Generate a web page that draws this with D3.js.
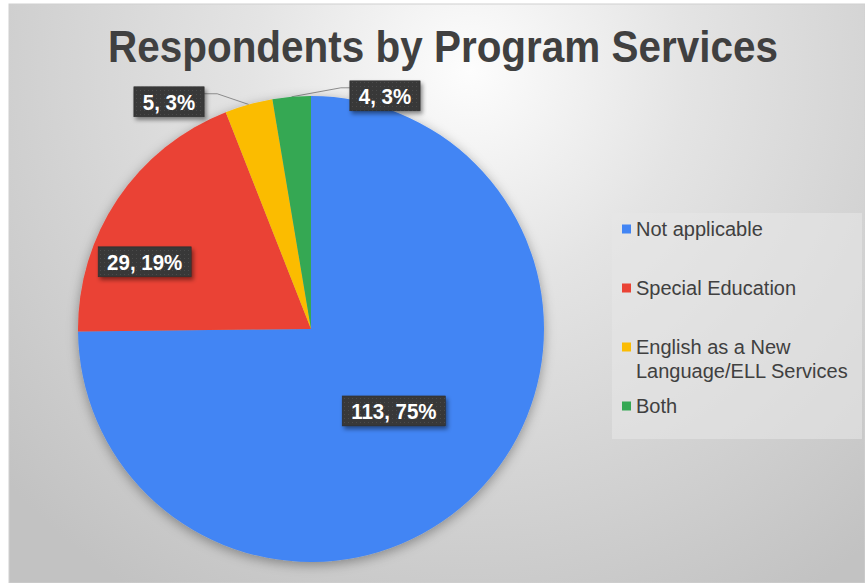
<!DOCTYPE html>
<html>
<head>
<meta charset="utf-8">
<script src="https://cdn.jsdelivr.net/npm/d3@7"></script>
<style>
  body { margin: 0; background: #fff; }
  svg { display: block; }
</style>
</head>
<body>
<div id="chart"></div>
<script>
// data
var categories = ["Not applicable", "Special Education", "English as a New Language/ELL Services", "Both"];
var legendLines = [["Not applicable"], ["Special Education"], ["English as a New", "Language/ELL Services"], ["Both"]];
var counts = [113, 29, 5, 4];
var colors = ["#4285f4", "#ea4335", "#fbbc04", "#34a853"];
var title = "Respondents by Program Services";

// where each data label sits: angle (deg from 12 o'clock) and distance as share of radius
var labelPlace = [
    { angle: 134.7, dist: 0.50, leader: false },
    { angle: 292,   dist: 0.77, leader: false },
    { angle: 328,   dist: 1.15, leader: true  },
    { angle: 17.6,  dist: 1.05, leader: true  }
];

var W = 865, H = 583;
var cx = 311, cy = 329, radius = 233;
var narrow = "'Liberation Sans Narrow', 'Arial Narrow', 'Liberation Sans', sans-serif";

var svg = d3.select("#chart").append("svg")
    .attr("width", W)
    .attr("height", H);

var defs = svg.append("defs");

// background gradient
var bg = defs.append("radialGradient")
    .attr("id", "bg")
    .attr("gradientUnits", "userSpaceOnUse")
    .attr("cx", 470).attr("cy", 70).attr("r", 620);
bg.append("stop").attr("offset", "0%").attr("stop-color", "#fdfdfd");
bg.append("stop").attr("offset", "35%").attr("stop-color", "#e4e4e4");
bg.append("stop").attr("offset", "100%").attr("stop-color", "#c2c2c2");

var shadow = defs.append("filter").attr("id", "pieShadow")
    .attr("x", "-20%").attr("y", "-20%").attr("width", "140%").attr("height", "140%");
shadow.append("feDropShadow")
    .attr("dx", 0).attr("dy", 3).attr("stdDeviation", 6)
    .attr("flood-color", "#000").attr("flood-opacity", 0.35);

var boxShadow = defs.append("filter").attr("id", "boxShadow")
    .attr("x", "-20%").attr("y", "-30%").attr("width", "150%").attr("height", "180%");
boxShadow.append("feDropShadow")
    .attr("dx", 2).attr("dy", 3).attr("stdDeviation", 2)
    .attr("flood-color", "#000").attr("flood-opacity", 0.45);

var dots = defs.append("pattern").attr("id", "dots")
    .attr("width", 4).attr("height", 4).attr("patternUnits", "userSpaceOnUse");
dots.append("rect").attr("width", 4).attr("height", 4).attr("fill", "#383838");
dots.append("rect").attr("x", 1).attr("y", 1).attr("width", 1).attr("height", 1).attr("fill", "#4c4c4c");

// chart area
svg.append("rect")
    .attr("x", 9).attr("y", 4)
    .attr("width", W - 9).attr("height", H - 4)
    .attr("fill", "url(#bg)")
    .attr("stroke", "#d0d0d0")
    .attr("stroke-width", 1);

// title
var t = svg.append("text")
    .attr("x", 443)
    .attr("y", 62)
    .attr("text-anchor", "middle")
    .style("font-family", narrow)
    .style("font-weight", "bold")
    .style("font-size", "44px")
    .style("fill", "#404040")
    .text(title);
if (t.node().getComputedTextLength() > 672) {
    t.attr("textLength", 670).attr("lengthAdjust", "spacingAndGlyphs");
}

// pie
var total = d3.sum(counts);
var pct = d3.format(".0%");
var pie = d3.pie().sort(null).value(function(d) { return d; });
var arcs = pie(counts);
var arc = d3.arc().innerRadius(0).outerRadius(radius);

var g = svg.append("g").attr("transform", "translate(" + cx + "," + cy + ")");

g.append("g")
    .attr("filter", "url(#pieShadow)")
    .selectAll("path")
    .data(arcs)
    .enter().append("path")
    .attr("d", arc)
    .attr("fill", function(d, i) { return colors[i]; });

function polar(angleDeg, r) {
    var a = angleDeg * Math.PI / 180;
    return [Math.sin(a) * r, -Math.cos(a) * r];
}

// data labels
arcs.forEach(function(d, i) {
    var place = labelPlace[i];
    var p = polar(place.angle, place.dist * radius);
    var label = counts[i] + ", " + pct(counts[i] / total);

    var lg = g.append("g");
    var txt = lg.append("text")
        .attr("x", p[0])
        .attr("y", p[1])
        .attr("dy", "0.36em")
        .attr("text-anchor", "middle")
        .style("font-family", narrow)
        .style("font-weight", "bold")
        .style("font-size", "22px")
        .style("fill", "#fff")
        .text(label);
    var tw = txt.node().getComputedTextLength();
    // squeeze a little, the original face is condensed
    tw = tw * 0.93;
    txt.attr("textLength", tw).attr("lengthAdjust", "spacingAndGlyphs");
    var bw = tw + 18, bh = 30;
    var bx = p[0] - bw / 2, by = p[1] - bh / 2;

    lg.insert("rect", "text")
        .attr("x", bx).attr("y", by)
        .attr("width", bw).attr("height", bh)
        .attr("fill", "url(#dots)")
        .attr("stroke", "#2a2a2a")
        .attr("stroke-width", 0.5)
        .attr("filter", "url(#boxShadow)");

    if (place.leader) {
        var mid = (d.startAngle + d.endAngle) / 2 * 180 / Math.PI;
        var a0 = polar(mid, radius);
        var left = p[0] < a0[0];
        var ex = left ? bx + bw : bx;
        var ey = by + 7;
        var elbowX = left ? ex + 13 : ex - 9;
        g.insert("path", "g")
            .attr("d", "M" + a0[0] + "," + a0[1] + "L" + elbowX + "," + ey + "L" + ex + "," + ey)
            .attr("fill", "none")
            .attr("stroke", "#8c8c8c")
            .attr("stroke-width", 1);
    }
});

// legend
var legend = svg.append("g");
legend.append("rect")
    .attr("x", 612).attr("y", 213)
    .attr("width", 250).attr("height", 226)
    .attr("fill", "#e6e6e6")
    .attr("fill-opacity", 0.6);

var ly = d3.scalePoint()
    .domain(categories)
    .range([229, 406]);

var item = legend.selectAll(".item")
    .data(categories)
    .enter().append("g")
    .attr("class", "item")
    .attr("transform", function(d) { return "translate(622," + ly(d) + ")"; });

item.append("rect")
    .attr("x", 0).attr("y", -4.5)
    .attr("width", 9).attr("height", 9)
    .attr("fill", function(d, i) { return colors[i]; });

item.append("text")
    .attr("x", 14)
    .style("font-family", "'Liberation Sans', Arial, sans-serif")
    .style("font-size", "20px")
    .style("fill", "#404040")
    .selectAll("tspan")
    .data(function(d, i) { return legendLines[i]; })
    .enter().append("tspan")
    .attr("x", 14)
    .attr("y", function(d, j) { return j * 24; })
    .attr("dy", "0.35em")
    .text(function(d) { return d; });
</script>
</body>
</html>
